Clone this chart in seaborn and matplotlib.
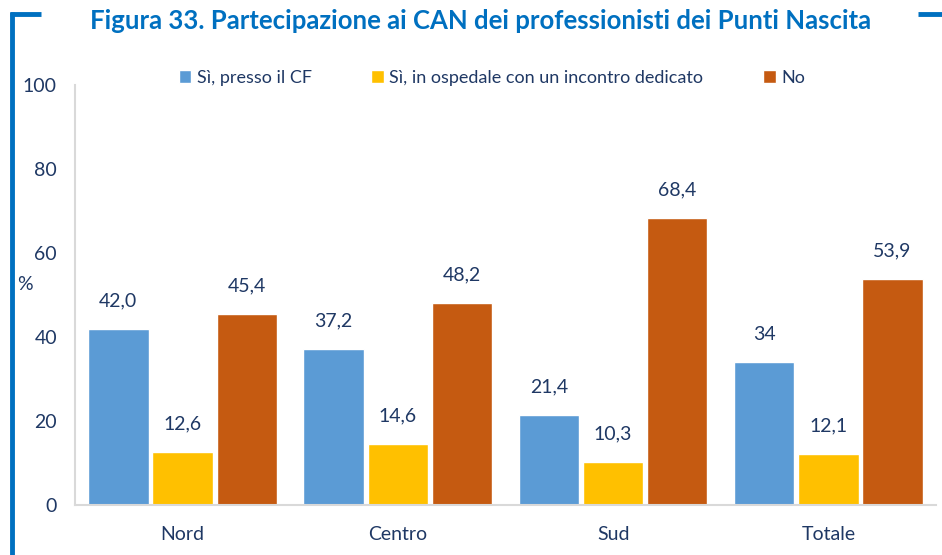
import matplotlib
matplotlib.use('Agg')
import matplotlib.pyplot as plt
from matplotlib.lines import Line2D
import seaborn as sns
import pandas as pd

regioni = ['Nord', 'Centro', 'Sud', 'Totale']
serie = ['Sì, presso il CF', 'Sì, in ospedale con un incontro dedicato', 'No']
cf = [42.0, 37.2, 21.4, 34.0]
ospedale = [12.6, 14.6, 10.3, 12.1]
no = [45.4, 48.2, 68.4, 53.9]
etichette_cf = ['42,0', '37,2', '21,4', '34']
etichette_osp = ['12,6', '14,6', '10,3', '12,1']
etichette_no = ['45,4', '48,2', '68,4', '53,9']
colori = ['#5B9BD5', '#FFC000', '#C55A11']

testo = '#1F3864'
blu = '#0070C0'

df = pd.DataFrame({
    'regione': regioni * 3,
    'risposta': [serie[0]] * 4 + [serie[1]] * 4 + [serie[2]] * 4,
    'valore': cf + ospedale + no,
})

sns.set_style('white')
plt.rcParams['font.family'] = ['Lato', 'DejaVu Sans']

fig = plt.figure(figsize=(9.42, 5.55), dpi=100)
ax = fig.add_axes([0.0796, 0.09, 0.914, 0.757])

sns.barplot(data=df, x='regione', y='valore', hue='risposta', order=regioni,
            hue_order=serie, palette=colori, width=0.895, gap=0.06,
            saturation=1, ax=ax, legend=True)

for cont, lab in zip(ax.containers, [etichette_cf, etichette_osp, etichette_no]):
    ax.bar_label(cont, labels=lab, padding=14, fontsize=14, color=testo)

ax.set_ylim(0, 100)
ax.set_xlim(-0.5, 3.5)
ax.set_yticks(range(0, 101, 20))
ax.set_xlabel('')
ax.set_ylabel('')
ax.tick_params(axis='y', colors='#D9D9D9', labelcolor=testo, labelsize=14, length=5, width=1.5, pad=8)
ax.tick_params(axis='x', length=0, labelcolor=testo, labelsize=14, pad=15)
for s in ['top', 'right']:
    ax.spines[s].set_visible(False)
for s in ['left', 'bottom']:
    ax.spines[s].set_color('#D9D9D9')
    ax.spines[s].set_linewidth(1.5)

leg = ax.legend(loc='upper center', bbox_to_anchor=(0.484, 1.075), ncol=3, frameon=False,
                fontsize=13, handlelength=0.7, handleheight=0.7, handletextpad=0.3,
                columnspacing=3.3, labelcolor=testo)

fig.text(0.027, 0.487, '%', fontsize=14, color=testo, ha='center', va='center')
fig.text(0.51, 0.963, 'Figura 33. Partecipazione ai CAN dei professionisti dei Punti Nascita',
         fontsize=18.5, fontweight='bold', color=blu, ha='center', va='center')

# cornice blu
opz = dict(color=blu, lw=3.5, solid_capstyle='butt', transform=fig.transFigure)
fig.add_artist(Line2D([0.013, 0.013], [0, 0.978], **opz))
fig.add_artist(Line2D([0.011, 0.043], [0.975, 0.975], **opz))
fig.add_artist(Line2D([0.975, 1.0], [0.975, 0.975], **opz))

fig.savefig('out.png', dpi=100)
